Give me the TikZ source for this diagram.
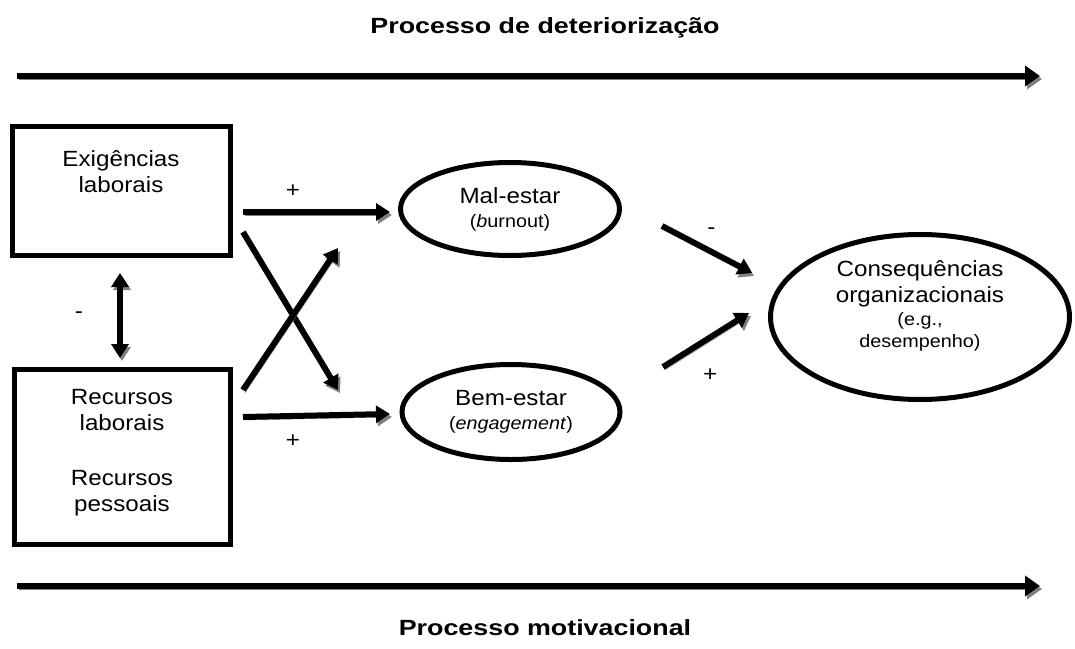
\documentclass[tikz,border=0pt]{standalone}
\usepackage{fontspec}
\setmainfont[FakeStretch=1.1]{Liberation Sans}
\newfontfamily\titlefont[FakeStretch=1.22]{Liberation Sans}
\usepackage{tikz}
\usetikzlibrary{arrows.meta}
\usetikzlibrary{shapes.geometric}
\usetikzlibrary{positioning}
\usepackage{xcolor}

\newcommand{\bodyfnt}{\fontsize{22}{26}\selectfont}
\newcommand{\smallfnt}{\fontsize{18}{22}\selectfont}

\begin{document}
\begin{tikzpicture}[x=1pt,y=-1pt,
box/.style={draw,line width=5pt,rectangle,inner sep=0pt,outer sep=0pt},
oval/.style={draw,line width=5pt,ellipse,inner sep=0pt,outer sep=0pt,align=center,font=\bodyfnt},
txt/.style={align=center,font=\bodyfnt},
sign/.style={font=\bodyfnt,inner sep=0pt},
sarrow/.style={line width=6pt,-{Triangle[length=14pt,width=17pt]},
  preaction={draw=black!50,transform canvas={shift={(2pt,-3pt)}}}},
darrow/.style={sarrow,{Triangle[length=14pt,width=17pt]}-{Triangle[length=14pt,width=17pt]}},
longarrow/.style={sarrow,-{Triangle[length=15pt,width=20pt]}}]
\useasboundingbox (0,0) rectangle (1075,648);

% titles
\node[font=\titlefont\fontsize{22}{26}\selectfont\bfseries] (top) at (545,28) {Processo de deteriorização};
\node[font=\titlefont\fontsize{22}{26}\selectfont\bfseries] (bot) at (545,628) {Processo motivacional};
\coordinate (t0) at (17,76);
\coordinate (t1) at (1040,76);
\coordinate (b0) at (17,586);
\coordinate (b1) at (1040,586);

% boxes
\node[box,minimum width=218,minimum height=129] (exig) at (121.5,191) {};
\node[box,minimum width=216,minimum height=175] (recu) at (122.5,457) {};
\node[txt] (exigTxt) at (121,172) {Exigências\\laborais};
\node[txt] (recuTxt1) at (122,410) {Recursos\\laborais};
\node[txt] (recuTxt2) at (122,493) {Recursos\\pessoais};

% ellipses
\node[oval,minimum width=219,minimum height=93] (mal) at (510,209)
  {Mal-estar\\[-2pt]{\smallfnt(\textit{b}urnout)}};
\node[oval,minimum width=218,minimum height=95] (bem) at (511,412)
  {Bem-estar\\[-2pt]{\smallfnt(\textit{engagement})}};
\node[oval,minimum width=299,minimum height=165] (cons) at (920,317) {};
\node[txt] (consTxt) at (920,306)
  {Consequências\\organizacionais\\[-3pt]{\smallfnt(e.g.,}\\[-4pt]{\smallfnt desempenho)}};

% arrows
\draw[longarrow] (t0) -- (t1);
\draw[longarrow] (b0) -- (b1);
\draw[sarrow] ([shift={(12.5,21)}]exig.east) -- ([shift={(-10.5,3)}]mal.west)
  node[sign,pos=0.34,above=12pt] {+};
\draw[sarrow] ([shift={(12.5,-40)}]recu.east) -- ([shift={(-12,2)}]bem.west)
  node[sign,pos=0.34,below=16pt] {+};
\draw[sarrow] ([shift={(12.5,41)}]exig.east) -- ([shift={(-64,-22)}]bem.west);
\draw[sarrow] ([shift={(12.5,-67)}]recu.east) -- ([shift={(-62.5,39)}]mal.west);
\draw[sarrow] ([shift={(42.5,17)}]mal.east) -- ([shift={(-18.5,-44)}]cons.west)
  node[sign,pos=0.55,above=14pt] {-};
\draw[sarrow] ([shift={(43,-45)}]bem.east) -- ([shift={(-21.5,-4)}]cons.west)
  node[sign,pos=0.55,below=28pt] {+};
\draw[darrow] ([shift={(-1.5,17.5)}]exig.south) -- ([shift={(-2.5,-11.5)}]recu.north)
  node[sign,midway,left=34pt] {-};
\end{tikzpicture}
\end{document}
